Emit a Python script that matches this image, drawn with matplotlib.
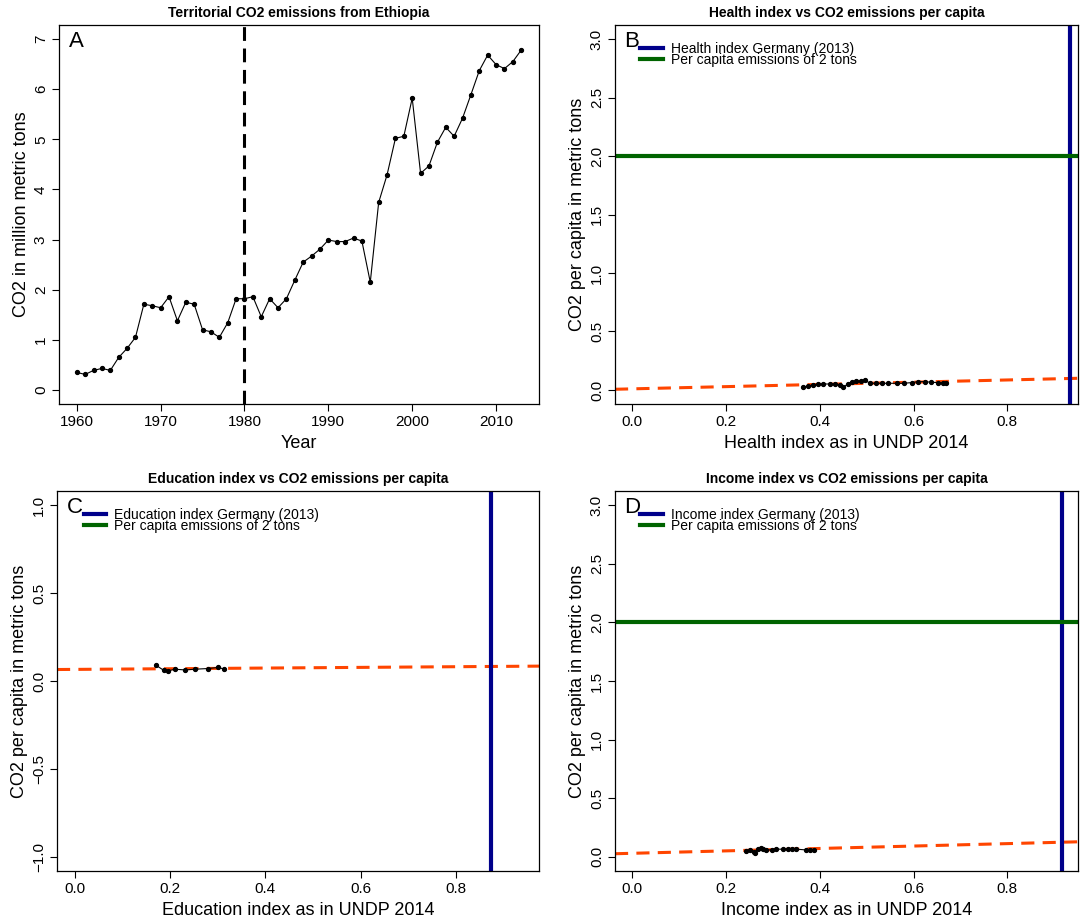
import matplotlib
matplotlib.use("Agg")
import matplotlib.pyplot as plt

plt.rcParams["font.family"] = ["Liberation Sans", "DejaVu Sans"]

# panel A: territorial emissions (million t)
years = list(range(1960, 2014))
co2_total = [0.35, 0.31, 0.39, 0.43, 0.39, 0.65, 0.83, 1.05, 1.71, 1.68,
             1.64, 1.86, 1.38, 1.75, 1.71, 1.20, 1.16, 1.05, 1.34, 1.82,
             1.82, 1.86, 1.46, 1.82, 1.64, 1.82, 2.19, 2.55, 2.67, 2.81,
             2.99, 2.96, 2.96, 3.03, 2.97, 2.15, 3.74, 4.29, 5.02, 5.06,
             5.82, 4.32, 4.47, 4.94, 5.24, 5.06, 5.42, 5.89, 6.37, 6.68,
             6.49, 6.41, 6.55, 6.78]
break_year = 1980

# panel B: health index vs per capita
health_idx = [0.364, 0.375, 0.386, 0.396, 0.407, 0.421, 0.432, 0.443, 0.450,
              0.460, 0.468, 0.478, 0.488, 0.496, 0.507, 0.520, 0.532, 0.546,
              0.564, 0.579, 0.596, 0.610, 0.624, 0.638, 0.653, 0.662, 0.670]
health_co2 = [0.023, 0.034, 0.043, 0.049, 0.051, 0.051, 0.049, 0.043, 0.023,
              0.051, 0.071, 0.077, 0.077, 0.086, 0.057, 0.057, 0.057, 0.057,
              0.057, 0.057, 0.063, 0.071, 0.071, 0.066, 0.063, 0.063, 0.063]
health_fit = (0.0095, 0.095)
health_germany = 0.934

# panel C: education index
edu_idx = [0.170, 0.186, 0.196, 0.210, 0.231, 0.252, 0.280, 0.301, 0.314]
edu_co2 = [0.090, 0.061, 0.058, 0.067, 0.063, 0.067, 0.071, 0.077, 0.067]
edu_fit = (0.066, 0.019)
edu_germany = 0.875

# panel D: income index
income_idx = [0.243, 0.252, 0.259, 0.261, 0.268, 0.275, 0.279, 0.286, 0.297,
              0.307, 0.322, 0.332, 0.340, 0.350, 0.370, 0.379, 0.388]
income_co2 = [0.051, 0.057, 0.043, 0.031, 0.071, 0.080, 0.066, 0.060, 0.060,
              0.066, 0.066, 0.071, 0.071, 0.066, 0.060, 0.060, 0.060]
income_fit = (0.031, 0.103)
income_germany = 0.916

target_pc = 2.0

W, H = 1087, 919
fig = plt.figure(figsize=(W / 100, H / 100), dpi=100)


def frame(x0, y0, x1, y1):
    return fig.add_axes([x0 / W, 1 - y1 / H, (x1 - x0) / W, (y1 - y0) / H])


def style(ax, title, letter, xlabel, ylabel):
    ax.set_title(title, fontsize=10, fontweight="bold", pad=6)
    ax.set_xlabel(xlabel, fontsize=13, labelpad=4)
    ax.set_ylabel(ylabel, fontsize=13, labelpad=3)
    ax.tick_params(direction="out", length=5, width=0.8, labelsize=11, pad=3)
    ax.tick_params(axis="y", labelrotation=90)
    for lbl in ax.get_yticklabels():
        lbl.set_va("center")
    for sp in ax.spines.values():
        sp.set_linewidth(0.9)
    ax.text(0.02, 0.985, letter, transform=ax.transAxes, fontsize=16,
            va="top", ha="left")


def index_panel(ax, idx, co2, fit, germany, name, letter, xlim, ylim, yticks):
    ax.plot(idx, co2, color="black", lw=0.8, marker="o", ms=2.8, zorder=3)
    ax.axline((0, fit[0]), slope=fit[1], color="#FF4500", lw=2.2,
              ls=(0, (4.3, 2.7)), zorder=2)
    ax.axvline(germany, color="#00008B", lw=3, label=name + " index Germany (2013)")
    ax.axhline(target_pc, color="#006400", lw=3, label="Per capita emissions of 2 tons")
    ax.set_xlim(*xlim)
    ax.set_ylim(*ylim)
    ax.set_xticks([0.0, 0.2, 0.4, 0.6, 0.8])
    ax.set_xticklabels(["0.0", "0.2", "0.4", "0.6", "0.8"])
    ax.set_yticks(yticks)
    ax.set_yticklabels([f"{v:.1f}".replace("-", "\u2212") for v in yticks])
    style(ax, name + " index vs CO2 emissions per capita", letter,
          name + " index as in UNDP 2014", "CO2 per capita in metric tons")
    ax.legend(loc="upper left", bbox_to_anchor=(0.055, 0.955), frameon=False,
              fontsize=10, handlelength=1.6, handletextpad=0.6,
              labelspacing=-0.25, borderpad=0, borderaxespad=0)


# A
axA = frame(59, 25, 539, 404)
axA.plot(years, co2_total, color="black", lw=0.8, marker="o", ms=2.8)
axA.axvline(break_year, color="black", lw=2.2, ls=(0, (4.5, 2.5)))
axA.set_xlim(1957.88, 2015.12)
axA.set_ylim(-0.28, 7.28)
axA.set_yticks(range(0, 8))
style(axA, "Territorial CO2 emissions from Ethiopia", "A", "Year",
      "CO2 in million metric tons")

b_ticks = [0.0, 0.5, 1.0, 1.5, 2.0, 2.5, 3.0]
axB = frame(615, 25, 1078, 404)
index_panel(axB, health_idx, health_co2, health_fit, health_germany, "Health",
            "B", (-0.037, 0.951), (-0.12, 3.12), b_ticks)

axC = frame(57, 491, 539, 871)
index_panel(axC, edu_idx, edu_co2, edu_fit, edu_germany, "Education",
            "C", (-0.038, 0.975), (-1.08, 1.08), [-1.0, -0.5, 0.0, 0.5, 1.0])

axD = frame(615, 491, 1078, 871)
index_panel(axD, income_idx, income_co2, income_fit, income_germany, "Income",
            "D", (-0.037, 0.951), (-0.12, 3.12), b_ticks)

fig.savefig("out.png", dpi=100)
